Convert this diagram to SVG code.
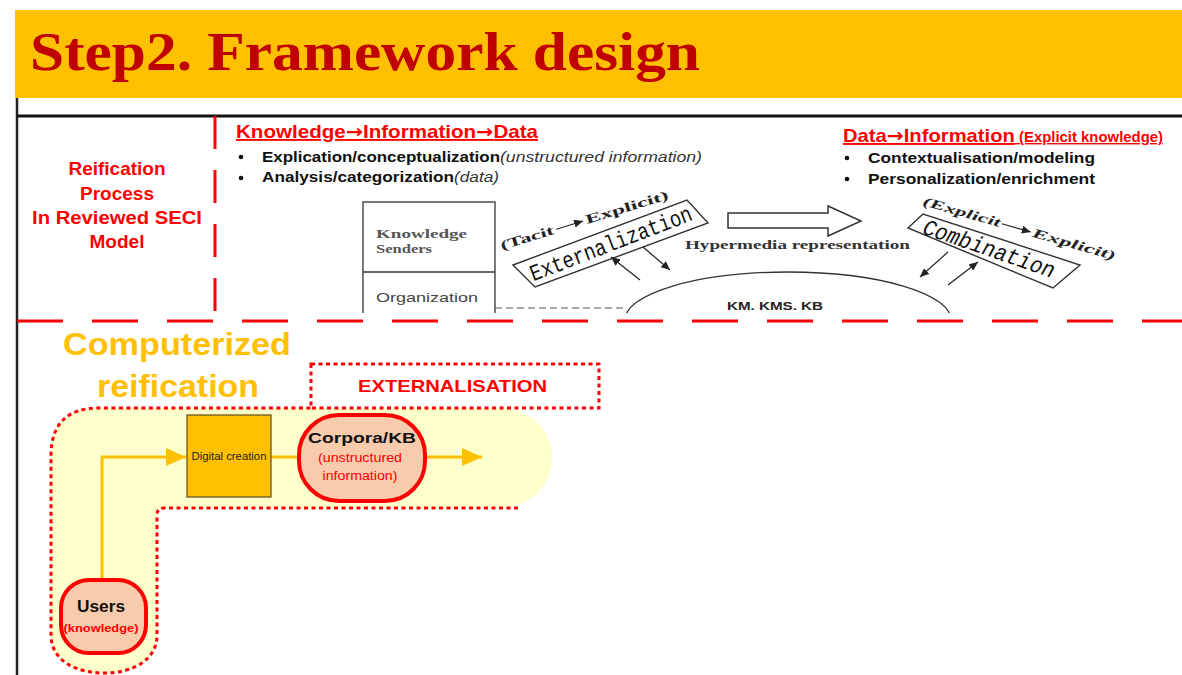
<svg xmlns="http://www.w3.org/2000/svg" width="1182" height="675" viewBox="0 0 1182 675">
<defs>
<style>
.sans{font-family:"Liberation Sans",Arial,sans-serif}
.serif{font-family:"Liberation Serif","Times New Roman",serif}
.mono{font-family:"Liberation Mono","Courier New",monospace}
.arw{font-family:"DejaVu Sans",sans-serif}
.red{fill:#FF0000}
.b{font-weight:bold}
.ink{stroke:#333;stroke-width:1.3;fill:none}
.dot{fill:none;stroke:#FF0000;stroke-width:3;stroke-dasharray:4 3.5}
.node{fill:#F8CBAD;stroke:#FF0000;stroke-width:4}
.conn{fill:none;stroke:#FFC000;stroke-width:3}
</style>
<marker id="oa" markerUnits="userSpaceOnUse" markerWidth="22" markerHeight="18" refX="20" refY="9" orient="auto"><path d="M0,0 L20,9 L0,18 Z" fill="#FFC000"/></marker>
<marker id="ba" markerUnits="userSpaceOnUse" markerWidth="10" markerHeight="8" refX="9" refY="4" orient="auto"><path d="M0,0 L9,4 L0,8 Z" fill="#222"/></marker>
<clipPath id="seci"><rect x="300" y="188" width="882" height="125"/></clipPath>
</defs>
<rect x="0" y="0" width="1182" height="675" fill="#fff"/>

<g id="banner">
<rect x="15" y="10" width="1167" height="88" fill="#FFC000"/>
<text class="serif b" x="30" y="70" font-size="54" fill="#C00000" textLength="670" lengthAdjust="spacingAndGlyphs">Step2. Framework design</text>
</g>

<g id="frame">
<line x1="17" y1="98" x2="17" y2="675" stroke="#222" stroke-width="2.5"/>
<line x1="17" y1="116" x2="1182" y2="116" stroke="#111" stroke-width="3"/>
<line x1="215" y1="116" x2="215" y2="314" stroke="#FF0000" stroke-width="3" stroke-dasharray="33 21"/>
<line x1="17" y1="321" x2="1182" y2="321" stroke="#FF0000" stroke-width="3" stroke-dasharray="46 29"/>
</g>

<g id="reification-label" class="sans b red" font-size="19" text-anchor="middle">
<text x="117" y="175">Reification</text>
<text x="117" y="200">Process</text>
<text x="117" y="224" textLength="170" lengthAdjust="spacingAndGlyphs">In Reviewed SECI</text>
<text x="117" y="248">Model</text>
</g>

<g id="left-heading">
<text class="sans b red" x="236" y="138" font-size="18.5" text-decoration="underline" textLength="302" lengthAdjust="spacingAndGlyphs">Knowledge<tspan class="arw">→</tspan>Information<tspan class="arw">→</tspan>Data</text>
<circle cx="241" cy="157" r="2.3" fill="#111"/>
<circle cx="241" cy="178" r="2.3" fill="#111"/>
<text class="sans" x="262" y="162" font-size="15" fill="#111"><tspan class="b" textLength="238" lengthAdjust="spacingAndGlyphs">Explication/conceptualization</tspan><tspan font-style="italic" fill="#333" textLength="202" lengthAdjust="spacingAndGlyphs">(unstructured information)</tspan></text>
<text class="sans" x="262" y="182" font-size="15" fill="#111"><tspan class="b" textLength="192" lengthAdjust="spacingAndGlyphs">Analysis/categorization</tspan><tspan font-style="italic" fill="#333" textLength="45" lengthAdjust="spacingAndGlyphs">(data)</tspan></text>
</g>

<g id="right-heading">
<text class="sans b red" x="843" y="142" text-decoration="underline" textLength="320" lengthAdjust="spacingAndGlyphs"><tspan font-size="19">Data<tspan class="arw">→</tspan>Information</tspan><tspan font-size="14"> (Explicit knowledge)</tspan></text>
<circle cx="847" cy="158" r="2.3" fill="#111"/>
<circle cx="847" cy="179" r="2.3" fill="#111"/>
<text class="sans b" x="868" y="163" font-size="15" fill="#111" textLength="227" lengthAdjust="spacingAndGlyphs">Contextualisation/modeling</text>
<text class="sans b" x="868" y="184" font-size="15" fill="#111" textLength="227" lengthAdjust="spacingAndGlyphs">Personalization/enrichment</text>
</g>

<g id="seci-model" clip-path="url(#seci)">
<g id="senders-box">
<rect x="363" y="202" width="132" height="130" class="ink"/>
<line x1="363" y1="272" x2="495" y2="272" class="ink"/>
<text class="serif b" x="376" y="238" font-size="12.5" fill="#555" textLength="91" lengthAdjust="spacingAndGlyphs">Knowledge</text>
<text class="serif b" x="376" y="253" font-size="12.5" fill="#555" textLength="56" lengthAdjust="spacingAndGlyphs">Senders</text>
<text class="sans" x="376" y="302" font-size="13" fill="#444" textLength="102" lengthAdjust="spacingAndGlyphs">Organization</text>
</g>
<line x1="495" y1="308" x2="627" y2="308" stroke="#555" stroke-width="1.2" stroke-dasharray="7 4"/>
<g id="km-base">
<ellipse cx="788" cy="320" rx="163" ry="48" class="ink"/>
<text class="sans b" x="727" y="310" font-size="11" fill="#222" textLength="96" lengthAdjust="spacingAndGlyphs">KM. KMS. KB</text>
</g>
<text class="serif b" x="685" y="249" font-size="12" fill="#333" textLength="225" lengthAdjust="spacingAndGlyphs">Hypermedia representation</text>
<polygon points="728,213 828,213 828,206 861,221 828,236 828,228 728,228" fill="#fff" stroke="#333" stroke-width="1.5"/>
<g id="externalization">
<polygon points="513,265 687,200 708,223 535,287" fill="#fff" stroke="#333" stroke-width="1.4"/>
<text class="mono" x="611" y="251" font-size="23" fill="#111" text-anchor="middle" transform="rotate(-21 611 244)" textLength="172" lengthAdjust="spacingAndGlyphs">Externalization</text>
<g transform="translate(502,250) rotate(-17)">
<text class="serif b" x="0" y="0" font-size="13" fill="#222" textLength="55" lengthAdjust="spacingAndGlyphs">(Tacit</text>
<line x1="58" y1="-4" x2="86" y2="-4" stroke="#222" stroke-width="1.2" marker-end="url(#ba)"/>
<text class="serif b" x="89" y="0" font-size="13" fill="#222" textLength="86" lengthAdjust="spacingAndGlyphs">Explicit)</text>
</g>
</g>
<g id="combination">
<polygon points="908,228 923,214 1080,265 1053,288" fill="#fff" stroke="#333" stroke-width="1.4"/>
<text class="mono" font-style="italic" x="989" y="256" font-size="23" fill="#111" text-anchor="middle" transform="rotate(19 989 249)" textLength="138" lengthAdjust="spacingAndGlyphs">Combination</text>
<g transform="translate(922,205) rotate(16)">
<text class="serif b" font-style="italic" x="0" y="0" font-size="13" fill="#222" textLength="80" lengthAdjust="spacingAndGlyphs">(Explicit</text>
<line x1="82" y1="-4" x2="112" y2="-4" stroke="#222" stroke-width="1.2" marker-end="url(#ba)"/>
<text class="serif b" font-style="italic" x="114" y="0" font-size="13" fill="#222" textLength="86" lengthAdjust="spacingAndGlyphs">Explicit)</text>
</g>
</g>
<g id="seci-arrows" stroke="#222" stroke-width="1.2" fill="none">
<line x1="640" y1="280" x2="611" y2="257" marker-end="url(#ba)"/>
<line x1="643" y1="247" x2="670" y2="270" marker-end="url(#ba)"/>
<line x1="948" y1="252" x2="920" y2="277" marker-end="url(#ba)"/>
<line x1="948" y1="285" x2="978" y2="262" marker-end="url(#ba)"/>
</g>
</g>

<g id="computerized-label" class="sans b" fill="#FFC000" font-size="31">
<text x="63" y="355" textLength="228" lengthAdjust="spacingAndGlyphs">Computerized</text>
<text x="97" y="397" textLength="162" lengthAdjust="spacingAndGlyphs">reification</text>
</g>

<g id="region">
<path d="M51,456 Q51,408 99,408 L500,408 C530,408 552,430 552,458 C552,486 530,508 500,508 L164,508 Q157,508 157,515 L157,635 C157,660 133,673 104,673 C75,673 51,660 51,635 Z" fill="#FFFFCC"/>
<path d="M518,508 L164,508 Q157,508 157,515 L157,635 C157,660 133,673 104,673 C75,673 51,660 51,635 L51,456 Q51,408 99,408 L311,408" class="dot"/>
</g>

<g id="externalisation-box">
<rect x="311" y="364" width="288" height="44" class="dot"/>
<text class="sans b red" x="358" y="392" font-size="17" textLength="189" lengthAdjust="spacingAndGlyphs">EXTERNALISATION</text>
</g>

<g id="connectors">
<polyline points="102,580 102,457 186,457" class="conn" marker-end="url(#oa)"/>
<line x1="271" y1="457" x2="299" y2="457" class="conn"/>
<line x1="425" y1="457" x2="482" y2="457" class="conn" marker-end="url(#oa)"/>
</g>

<g id="digital-creation">
<rect x="187" y="415" width="84" height="82" fill="#FFC000" stroke="#5a4a1e" stroke-width="1.2"/>
<text class="sans" x="229" y="460" font-size="10" fill="#222" text-anchor="middle" textLength="75" lengthAdjust="spacingAndGlyphs">Digital creation</text>
</g>

<g id="corpora-kb">
<rect x="299" y="415" width="126" height="86" rx="40" ry="40" class="node"/>
<text class="sans b" x="362" y="443" font-size="15" fill="#111" text-anchor="middle" textLength="108" lengthAdjust="spacingAndGlyphs">Corpora/KB</text>
<text class="sans red" x="360" y="462" font-size="12" text-anchor="middle" textLength="84" lengthAdjust="spacingAndGlyphs">(unstructured</text>
<text class="sans red" x="360" y="480" font-size="12" text-anchor="middle" textLength="75" lengthAdjust="spacingAndGlyphs">information)</text>
</g>

<g id="users">
<rect x="61" y="580" width="85" height="73" rx="28" ry="28" class="node"/>
<text class="sans b" x="101" y="612" font-size="16" fill="#111" text-anchor="middle" textLength="48" lengthAdjust="spacingAndGlyphs">Users</text>
<text class="sans b red" x="101" y="632" font-size="11.5" text-anchor="middle" textLength="75" lengthAdjust="spacingAndGlyphs">(knowledge)</text>
</g>
</svg>
